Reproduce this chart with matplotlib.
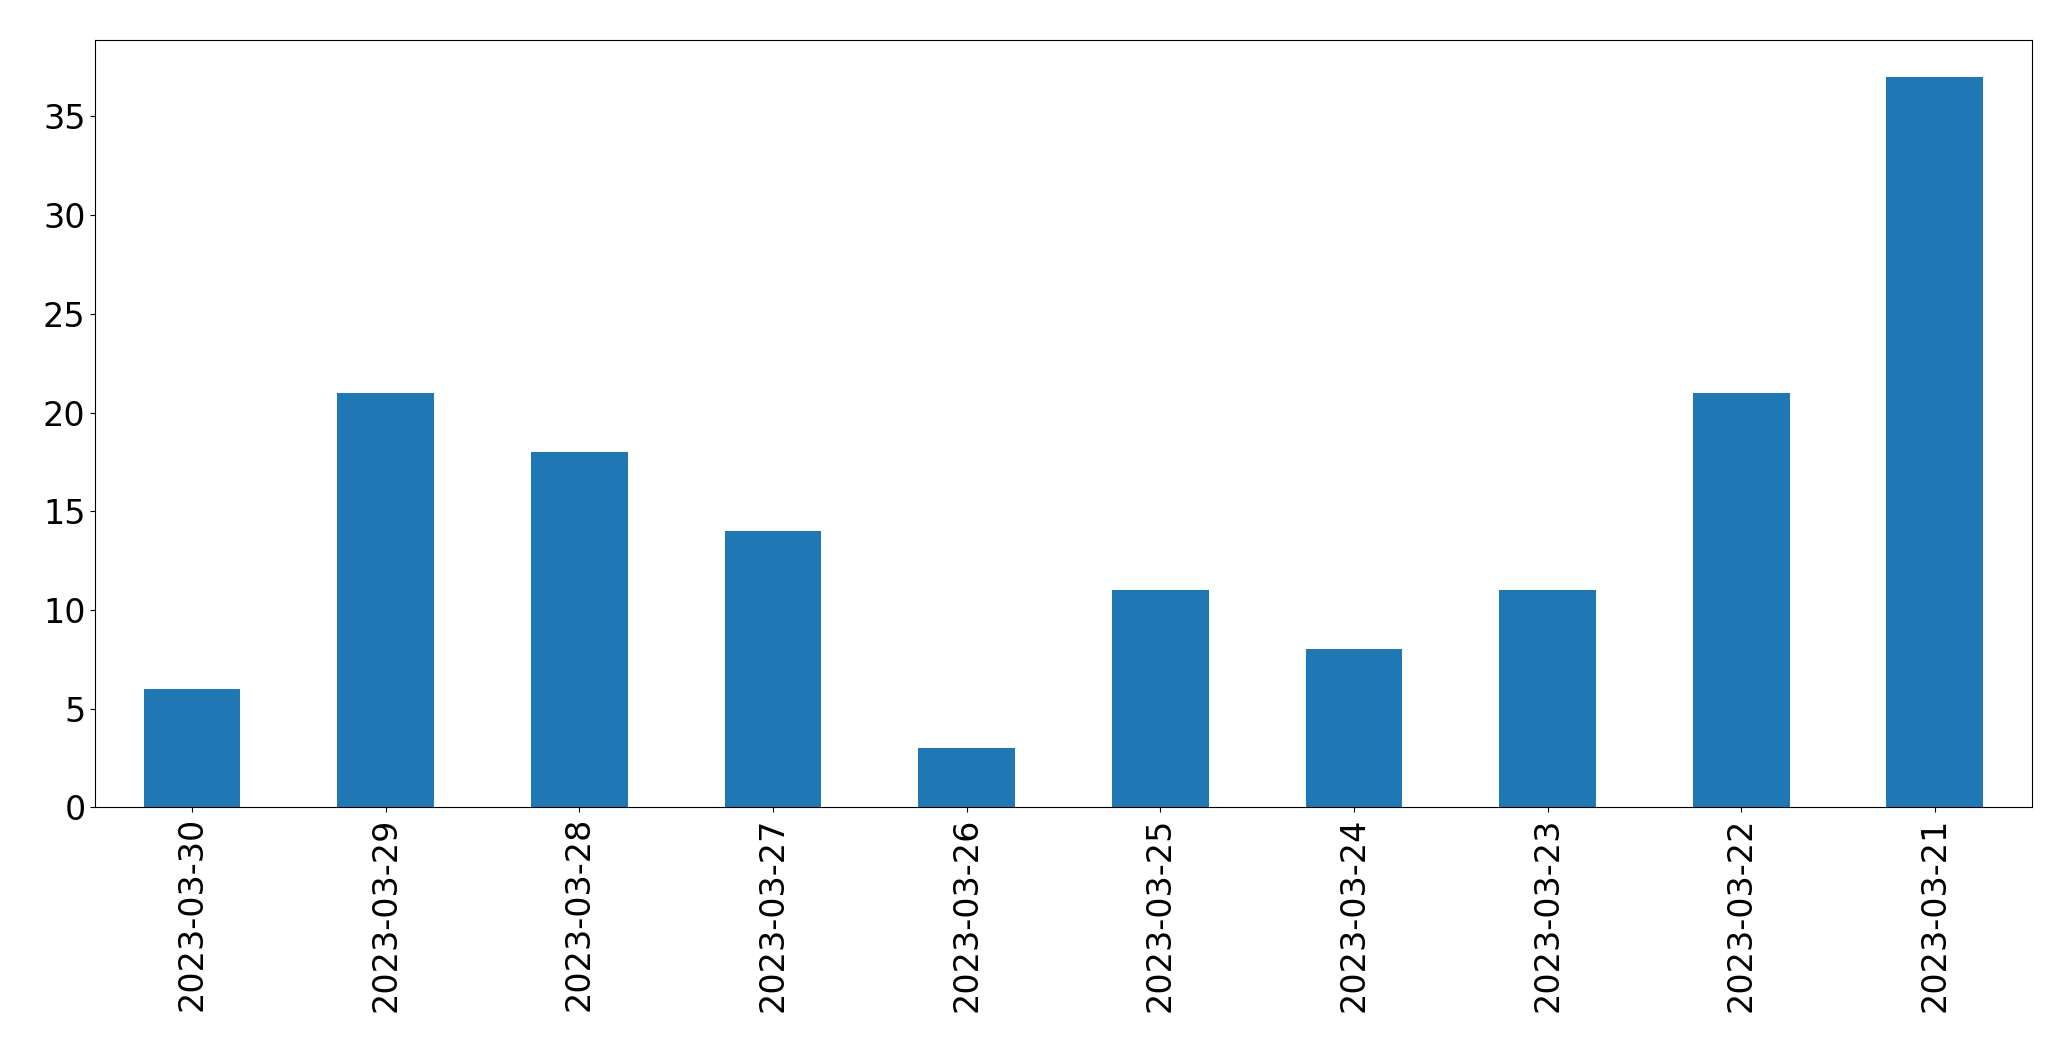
import matplotlib
matplotlib.use("Agg")
import matplotlib.pyplot as plt

dates = ["2023-03-30","2023-03-29","2023-03-28","2023-03-27","2023-03-26",
         "2023-03-25","2023-03-24","2023-03-23","2023-03-22","2023-03-21"]
counts = [6, 21, 18, 14, 3, 11, 8, 11, 21, 37]

fig = plt.figure(figsize=(20.71, 10.61), dpi=100)
ax = fig.add_axes([0.046, 0.239, 0.935, 0.723])
x = range(len(dates))
ax.bar(x, counts, width=0.5, color="#1f77b4")
ax.set_xlim(-0.5, len(dates) - 0.5)
ax.set_ylim(0, max(counts) * 1.05)
ax.set_xticks(list(x))
ax.set_xticklabels(dates, rotation=90)
ax.tick_params(labelsize=24)
fig.savefig("out.png", dpi=100)
